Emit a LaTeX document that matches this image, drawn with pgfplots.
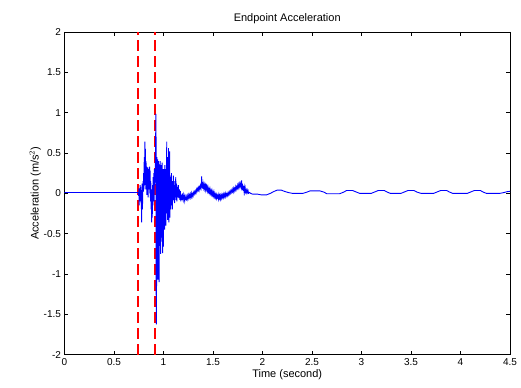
\documentclass[border=0pt]{standalone}
\usepackage{pgfplots}
\pgfplotsset{compat=1.18}
\usepackage{fontspec}
\setmainfont{Liberation Sans}
\begin{document}
\begin{tikzpicture}[font=\fontsize{11}{13}\selectfont]
\begin{axis}[
  scale only axis, width=446pt, height=323pt,
  xmin=0, xmax=4.5, ymin=-2, ymax=2,
  xtick={0,0.5,1,1.5,2,2.5,3,3.5,4,4.5},
  ytick={-2,-1.5,-1,-0.5,0,0.5,1,1.5,2},
  xtick pos=both, ytick pos=both,
  tick align=inside, major tick length=4pt,
  tick style={black, line width=0.6pt},
  axis line style={black, line width=0.8pt},
  /pgf/number format/assume math mode=true,
  tick label style={font=\fontsize{10}{12}\selectfont},
  title={Endpoint Acceleration},
  title style={yshift=-1pt},
  xlabel={Time (second)},
  ylabel={Acceleration (m/s$^2$)},
  xlabel style={yshift=3pt},
  ylabel style={yshift=-4pt},
  clip=true,
]
\addplot[red, line width=1.6pt, dash pattern=on 11pt off 5pt] coordinates {(0.745,-2) (0.745,2)};
\addplot[red, line width=1.6pt, dash pattern=on 11pt off 5pt] coordinates {(0.912,-2) (0.912,2)};
\addplot[blue, line width=0.9pt] coordinates {
(0.000,0.01) (0.745,0.01) (0.748,-0.03) (0.752,0.06) (0.755,-0.15) (0.758,0.02)
(0.761,-0.10) (0.764,0.10) (0.767,-0.05) (0.770,0.08) (0.773,-0.12) (0.776,0.04)
(0.779,-0.36) (0.782,-0.02) (0.785,0.12) (0.788,-0.20) (0.791,0.05) (0.794,0.15)
(0.797,0.02) (0.800,0.25) (0.803,0.05) (0.806,0.45) (0.809,0.10) (0.812,0.64)
(0.815,0.20) (0.818,0.55) (0.821,0.05) (0.824,0.40) (0.827,0.10) (0.830,0.33)
(0.833,-0.02) (0.836,0.30) (0.839,0.15) (0.842,0.32) (0.845,-0.05) (0.848,0.20)
(0.851,0.05) (0.854,0.30) (0.857,0.10) (0.860,0.33) (0.863,0.00) (0.866,0.28)
(0.869,-0.10) (0.872,0.15) (0.875,-0.20) (0.878,0.05) (0.881,-0.36) (0.884,0.00)
(0.887,-0.30) (0.890,0.10) (0.893,-0.15) (0.896,0.20) (0.899,-0.05) (0.902,0.25)
(0.905,-0.10) (0.908,0.30) (0.911,0.10) (0.916,0.20) (0.924,0.98) (0.925,0.98) (0.927,-1.62) (0.928,-1.62)
(0.929,0.40) (0.930,-0.50) (0.931,0.35) (0.932,-1.15)
(0.933,0.45) (0.934,-0.55) (0.935,0.38) (0.936,-0.90) (0.938,0.30) (0.940,-0.62)
(0.942,0.42) (0.944,-1.07) (0.946,0.35) (0.948,-0.58) (0.950,0.40) (0.952,-0.80)
(0.954,0.28) (0.956,-1.10) (0.958,0.36) (0.960,-0.55) (0.962,0.33) (0.964,-0.65)
(0.966,0.40) (0.968,-0.50) (0.970,0.30) (0.972,-0.75) (0.974,0.35) (0.976,-0.60)
(0.978,0.25) (0.980,-0.55) (0.982,0.32) (0.984,-0.50) (0.986,0.38) (0.988,-0.45)
(0.990,0.28) (0.992,-0.74) (0.994,0.30) (0.996,-0.40) (0.998,0.25) (1.000,-0.66)
(1.003,0.30) (1.006,-0.35) (1.009,0.20) (1.012,-0.45) (1.015,0.35) (1.018,-0.30)
(1.021,0.25) (1.024,-0.40) (1.027,0.30) (1.030,-0.25) (1.033,0.64) (1.036,-0.20)
(1.039,0.45) (1.042,-0.33) (1.045,0.30) (1.048,-0.20) (1.051,0.56) (1.054,-0.36)
(1.057,0.25) (1.060,-0.15) (1.063,0.52) (1.066,-0.30) (1.069,0.20) (1.072,-0.20)
(1.075,0.18) (1.078,-0.12) (1.081,0.25) (1.084,-0.15) (1.087,0.12) (1.090,-0.20)
(1.093,0.15) (1.096,-0.10) (1.100,0.22) (1.104,-0.08) (1.108,0.15) (1.112,-0.12)
(1.116,0.10) (1.120,-0.05) (1.124,0.20) (1.128,-0.08) (1.132,0.12) (1.136,-0.10)
(1.140,0.08) (1.145,-0.05) (1.150,0.10) (1.155,-0.06) (1.160,0.05) (1.165,-0.08)
(1.170,0.03) (1.175,-0.10) (1.180,-0.02) (1.185,-0.08) (1.190,0.00) (1.195,-0.06)
(1.200,-0.02) (1.205,-0.08) (1.210,-0.04) (1.215,-0.09) (1.220,-0.04) (1.225,-0.07)
(1.230,-0.08) (1.235,-0.04) (1.240,-0.07) (1.245,-0.03) (1.250,-0.06) (1.255,-0.02)
(1.260,-0.05) (1.265,-0.02) (1.270,-0.05) (1.275,-0.01) (1.280,-0.04) (1.285,0.00)
(1.290,-0.04) (1.295,-0.01) (1.300,-0.03) (1.305,0.01) (1.310,-0.01) (1.315,0.02)
(1.320,0.00) (1.325,0.03) (1.330,0.01) (1.335,0.05) (1.340,0.03) (1.345,0.06)
(1.350,0.04) (1.355,0.07) (1.360,0.04) (1.365,0.08) (1.370,0.06) (1.375,0.10)
(1.380,0.07) (1.384,0.12) (1.386,0.21) (1.388,0.07) (1.392,0.14) (1.396,0.06)
(1.400,0.12) (1.405,0.07) (1.410,0.11) (1.415,0.06) (1.420,0.10) (1.425,0.05)
(1.430,0.12) (1.435,0.05) (1.440,0.08) (1.445,0.03) (1.450,0.07) (1.455,0.02)
(1.460,0.05) (1.465,0.01) (1.470,0.05) (1.475,0.00) (1.480,0.03) (1.485,-0.01)
(1.490,0.03) (1.495,-0.02) (1.500,0.01) (1.505,-0.03) (1.510,0.01) (1.515,-0.04)
(1.520,-0.01) (1.525,-0.05) (1.530,-0.02) (1.535,-0.06) (1.540,-0.02) (1.545,-0.05)
(1.550,-0.03) (1.555,-0.07) (1.560,-0.02) (1.565,-0.06) (1.570,-0.03) (1.575,-0.07)
(1.580,-0.03) (1.585,-0.06) (1.590,-0.02) (1.595,-0.05) (1.600,-0.02) (1.605,-0.05)
(1.610,-0.01) (1.615,-0.04) (1.620,-0.01) (1.625,-0.04) (1.630,0.00) (1.635,-0.03)
(1.640,-0.01) (1.645,-0.03) (1.650,0.00) (1.655,-0.02) (1.660,0.01) (1.665,-0.01)
(1.670,0.02) (1.675,0.00) (1.680,0.03) (1.685,0.01) (1.690,0.04) (1.695,0.02)
(1.700,0.05) (1.705,0.02) (1.710,0.06) (1.715,0.03) (1.720,0.06) (1.725,0.04)
(1.730,0.08) (1.735,0.05) (1.740,0.08) (1.745,0.06) (1.750,0.10) (1.755,0.07)
(1.760,0.11) (1.765,0.08) (1.770,0.12) (1.775,0.09) (1.780,0.12) (1.785,0.08)
(1.790,0.16) (1.793,0.05) (1.797,0.12) (1.800,0.04) (1.803,0.10) (1.806,0.03)
(1.810,0.09) (1.814,0.03) (1.818,0.07) (1.822,0.02) (1.826,0.06) (1.830,0.02)
(1.835,0.04) (1.840,0.01) (1.845,0.04) (1.850,0.01) (1.855,0.03) (1.860,0.00)
(1.870,0.01) (1.880,0.00) (1.900,-0.01) (1.950,-0.01) (1.990,-0.02) (2.040,-0.02)
(2.080,0.00) (2.120,0.025) (2.150,0.04) (2.190,0.04) (2.220,0.025) (2.260,0.01)
(2.300,0.00) (2.410,0.00) (2.450,0.015) (2.480,0.03) (2.580,0.03) (2.620,0.015)
(2.650,-0.005) (2.780,-0.005) (2.820,0.015) (2.850,0.035) (2.910,0.035) (2.950,0.015)
(2.980,0.00) (3.100,0.00) (3.140,0.02) (3.170,0.035) (3.230,0.035) (3.260,0.015)
(3.290,0.00) (3.400,0.00) (3.440,0.02) (3.470,0.035) (3.530,0.035) (3.560,0.015)
(3.600,0.00) (3.730,0.00) (3.770,0.02) (3.800,0.035) (3.860,0.035) (3.890,0.015)
(3.920,0.00) (4.070,0.00) (4.110,0.02) (4.140,0.035) (4.200,0.035) (4.230,0.015)
(4.260,0.00) (4.400,0.00) (4.440,0.01) (4.470,0.02) (4.500,0.025)
};
\end{axis}
\path ([xshift=-64.5pt,yshift=-33pt]current axis.south west) rectangle ([xshift=11pt,yshift=32pt]current axis.north east);
\end{tikzpicture}
\end{document}
